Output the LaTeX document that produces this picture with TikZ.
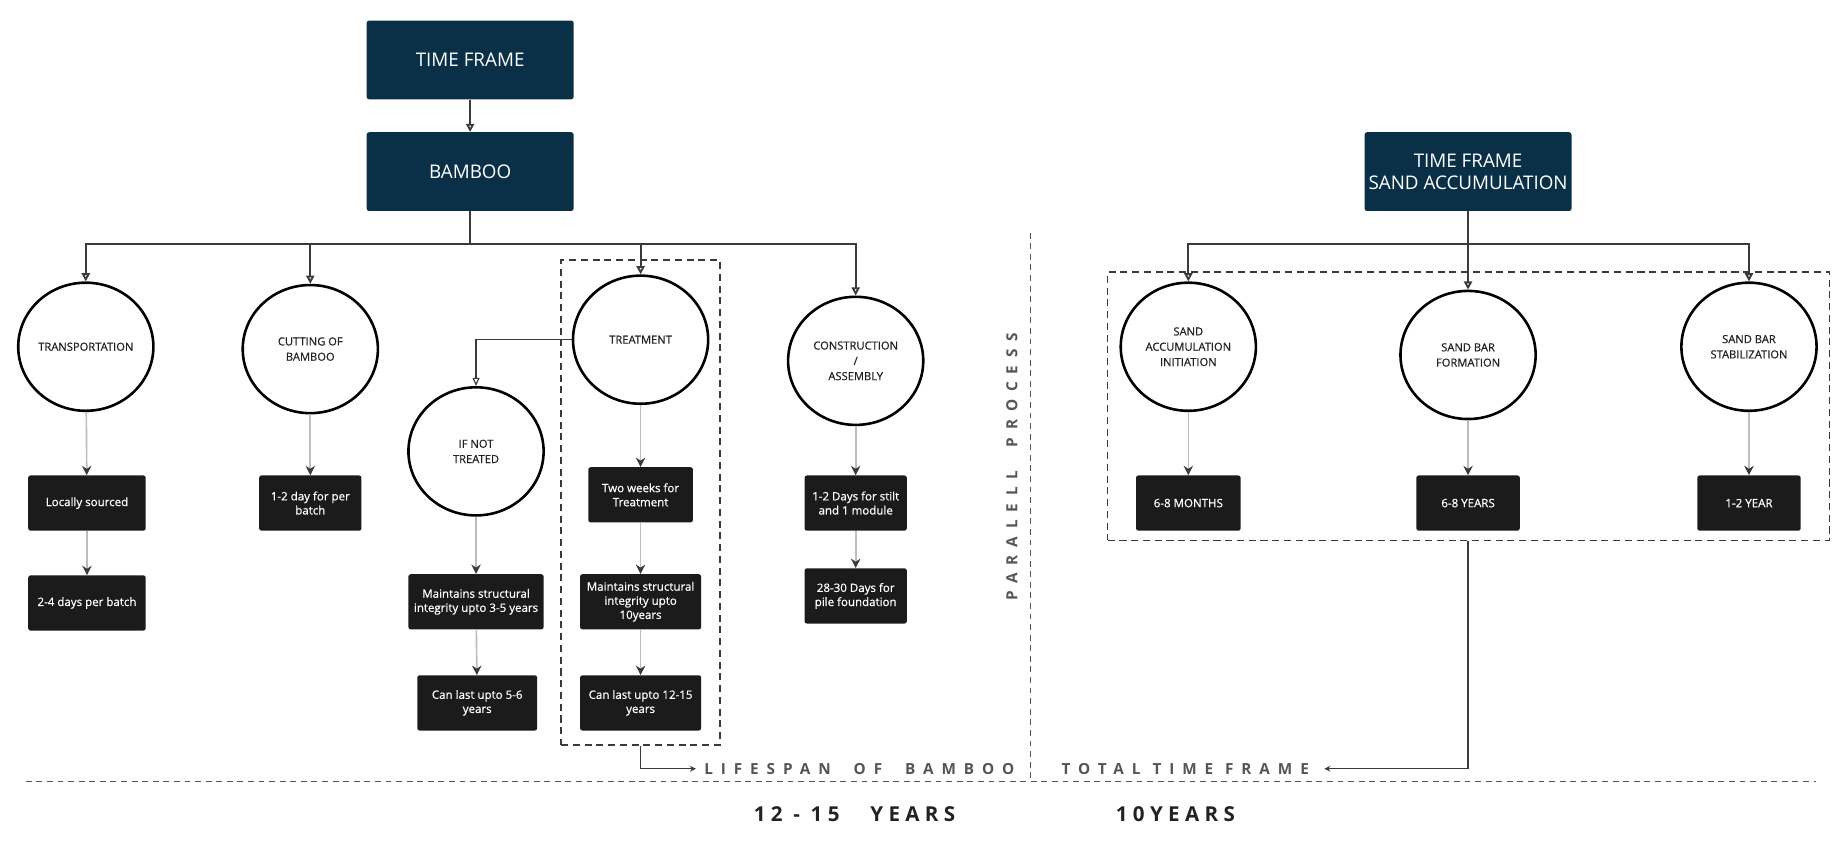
\documentclass[tikz,border=0pt]{standalone}
\usepackage{fontspec}
\setmainfont{Open Sans}
\usetikzlibrary{shapes.geometric,arrows.meta,positioning,fit}

\definecolor{hdrblue}{HTML}{0A3047}
\definecolor{boxblack}{HTML}{1B1B1B}
\definecolor{linedark}{HTML}{3A3A3A}
\definecolor{lightline}{HTML}{BDBDBD}
\definecolor{textdark}{HTML}{222222}
\definecolor{labelgray}{HTML}{555555}

\begin{document}
\begin{tikzpicture}[x=1pt, y=-1pt,
  hdr/.style={rectangle, rounded corners=2pt, fill=hdrblue, text=white, minimum width=176pt, minimum height=67pt, align=center, font=\fontsize{16}{19}\selectfont},
  stage/.style={ellipse, draw=black, line width=2.2pt, fill=white, minimum width=115pt, minimum height=109pt, inner sep=0pt, align=center, text=textdark, font=\fontsize{9.5}{13}\selectfont\addfontfeatures{FakeBold=0.6}},
  info/.style={rectangle, rounded corners=2pt, fill=boxblack, text=white, minimum height=47pt, inner xsep=2pt, align=center, font=\fontsize{9.8}{12}\selectfont\addfontfeatures{FakeBold=0.6}},
  busarrow/.style={draw=linedark, line width=1.6pt, -{Triangle[open, length=7pt, width=7pt]}},
  thinarrow/.style={draw=linedark, line width=1pt, -{Triangle[open, length=7pt, width=6pt]}},
  grayarrow/.style={draw=lightline, line width=1.4pt, -{Stealth[length=8pt, width=8pt, color=linedark]}},
  lblarrow/.style={draw=linedark, line width=1.1pt, -{Stealth[length=5pt, width=5pt]}},
  groupbox/.style={draw=linedark, line width=1.3pt, dash pattern=on 6pt off 4pt},
  divline/.style={draw=labelgray, line width=1.1pt, dash pattern=on 5pt off 4pt},
  lbl/.style={text=labelgray, inner sep=1pt, font=\fontsize{13}{15}\selectfont\bfseries\addfontfeatures{LetterSpace=52}},
  yrs/.style={text=textdark, inner sep=1pt, font=\fontsize{17.5}{20}\selectfont\bfseries\addfontfeatures{LetterSpace=26}}]

\useasboundingbox (0,0) rectangle (1568,721);

% bamboo side
\node[hdr] (tf) at (400,51) {TIME FRAME};
\node[hdr] (bamboo) at (400,146) {BAMBOO};
\draw[busarrow] (tf) -- (bamboo);

\node[stage] (transp) at (73,295) {TRANSPORTATION};
\node[stage] (cutting) at (264,297) {CUTTING OF\\BAMBOO};
\node[stage] (treat) at (545,289) {TREATMENT};
\node[stage] (constr) at (728,307) {CONSTRUCTION\\/\\ASSEMBLY};
\node[stage] (ifnot) at (405,384) {IF NOT\\TREATED};

\draw[busarrow] (bamboo.south) -- ++(0,28) -| (transp.north);
\draw[busarrow] (bamboo.south) -- ++(0,28) -| (cutting.north);
\draw[busarrow] (bamboo.south) -- ++(0,28) -| (treat.north);
\draw[busarrow] (bamboo.south) -- ++(0,28) -| (constr.north);
\draw[thinarrow] (treat.west) -| (ifnot.north);

\node[info, minimum width=100pt] (local) at (74,428) {Locally sourced};
\node[info, minimum width=100pt] (perbatch) at (74,513) {2-4 days per batch};
\node[info, minimum width=87pt] (cutday) at (264,428) {1-2 day for per\\batch};
\node[info, minimum width=115pt] (ifmaint) at (405,512) {Maintains structural\\integrity upto 3-5 years};
\node[info, minimum width=102pt] (iflast) at (406,598) {Can last upto 5-6\\years};
\node[info, minimum width=89pt] (twoweeks) at (545,421) {Two weeks for\\Treatment};
\node[info, minimum width=103pt] (tmaint) at (545,512) {Maintains structural\\integrity upto\\10years};
\node[info, minimum width=103pt] (tlast) at (545,598) {Can last upto 12-15\\years};
\node[info, minimum width=87pt] (stilt) at (728,428) {1-2 Days for stilt\\and 1 module};
\node[info, minimum width=87pt] (pile) at (728,507) {28-30 Days for\\pile foundation};

\draw[grayarrow] (transp) -- (local);
\draw[grayarrow] (local) -- (perbatch);
\draw[grayarrow] (cutting) -- (cutday);
\draw[grayarrow] (ifnot) -- (ifmaint);
\draw[grayarrow] (ifmaint) -- (iflast);
\draw[grayarrow] (treat) -- (twoweeks);
\draw[grayarrow] (twoweeks) -- (tmaint);
\draw[grayarrow] (tmaint) -- (tlast);
\draw[grayarrow] (constr) -- (stilt);
\draw[grayarrow] (stilt) -- (pile);

\node[groupbox, fit=(treat)(tmaint)(tlast), inner xsep=9pt, inner ysep=12pt] (treatgroup) {};

% sand side
\node[hdr] (sandhdr) at (1249,146) {TIME FRAME\\SAND ACCUMULATION};
\node[stage] (sandinit) at (1011,295) {SAND\\ACCUMULATION\\INITIATION};
\node[stage] (sandform) at (1249,302) {SAND BAR\\FORMATION};
\node[stage] (sandstab) at (1488,295) {SAND BAR\\STABILIZATION};

\draw[busarrow] (sandhdr.south) -- ++(0,28) -| (sandinit.north);
\draw[busarrow] (sandhdr.south) -- (sandform.north);
\draw[busarrow] (sandhdr.south) -- ++(0,28) -| (sandstab.north);

\node[info, minimum width=89pt] (months) at (1011,428) {6-8 MONTHS};
\node[info, minimum width=88pt] (years) at (1249,428) {6-8 YEARS};
\node[info, minimum width=88pt] (oneyear) at (1488,428) {1-2 YEAR};

\draw[grayarrow] (sandinit) -- (months);
\draw[grayarrow] (sandform) -- (years);
\draw[grayarrow] (sandstab) -- (oneyear);

\node[groupbox, fit=(sandinit)(sandstab)(months)(oneyear), inner xsep=10pt, inner ysep=8pt] (sandgroup) {};

% divider and totals
\coordinate (divtop) at (877,198);
\coordinate (divbot) at (877,665);
\coordinate (baseleft) at (22,665);
\coordinate (baseright) at (1545,665);
\draw[divline] (divtop) -- (divbot);
\draw[divline] (baseleft) -- (baseright);

\node[lbl, rotate=90] (parallel) at (861,397) {PARALELL\quad\enspace PROCESS};
\node[lbl, anchor=west] (lifespan) at (598,654) {LIFESPAN\quad\enspace OF\quad\enspace BAMBOO};
\node[lbl, anchor=west] (totalframe) at (902,654) {TOTAL TIME FRAME};
\draw[lblarrow, shorten >=6pt] (treatgroup.south) |- (lifespan.west);
\draw[lblarrow, shorten >=12pt] (sandgroup.south -| sandform.south) |- (totalframe.east);

\node[yrs] (yrsbamboo) at (727,693) {12 - 15\quad\enspace YEARS};
\node[yrs] (yrstotal) at (1000,693) {10YEARS};
\end{tikzpicture}
\end{document}
